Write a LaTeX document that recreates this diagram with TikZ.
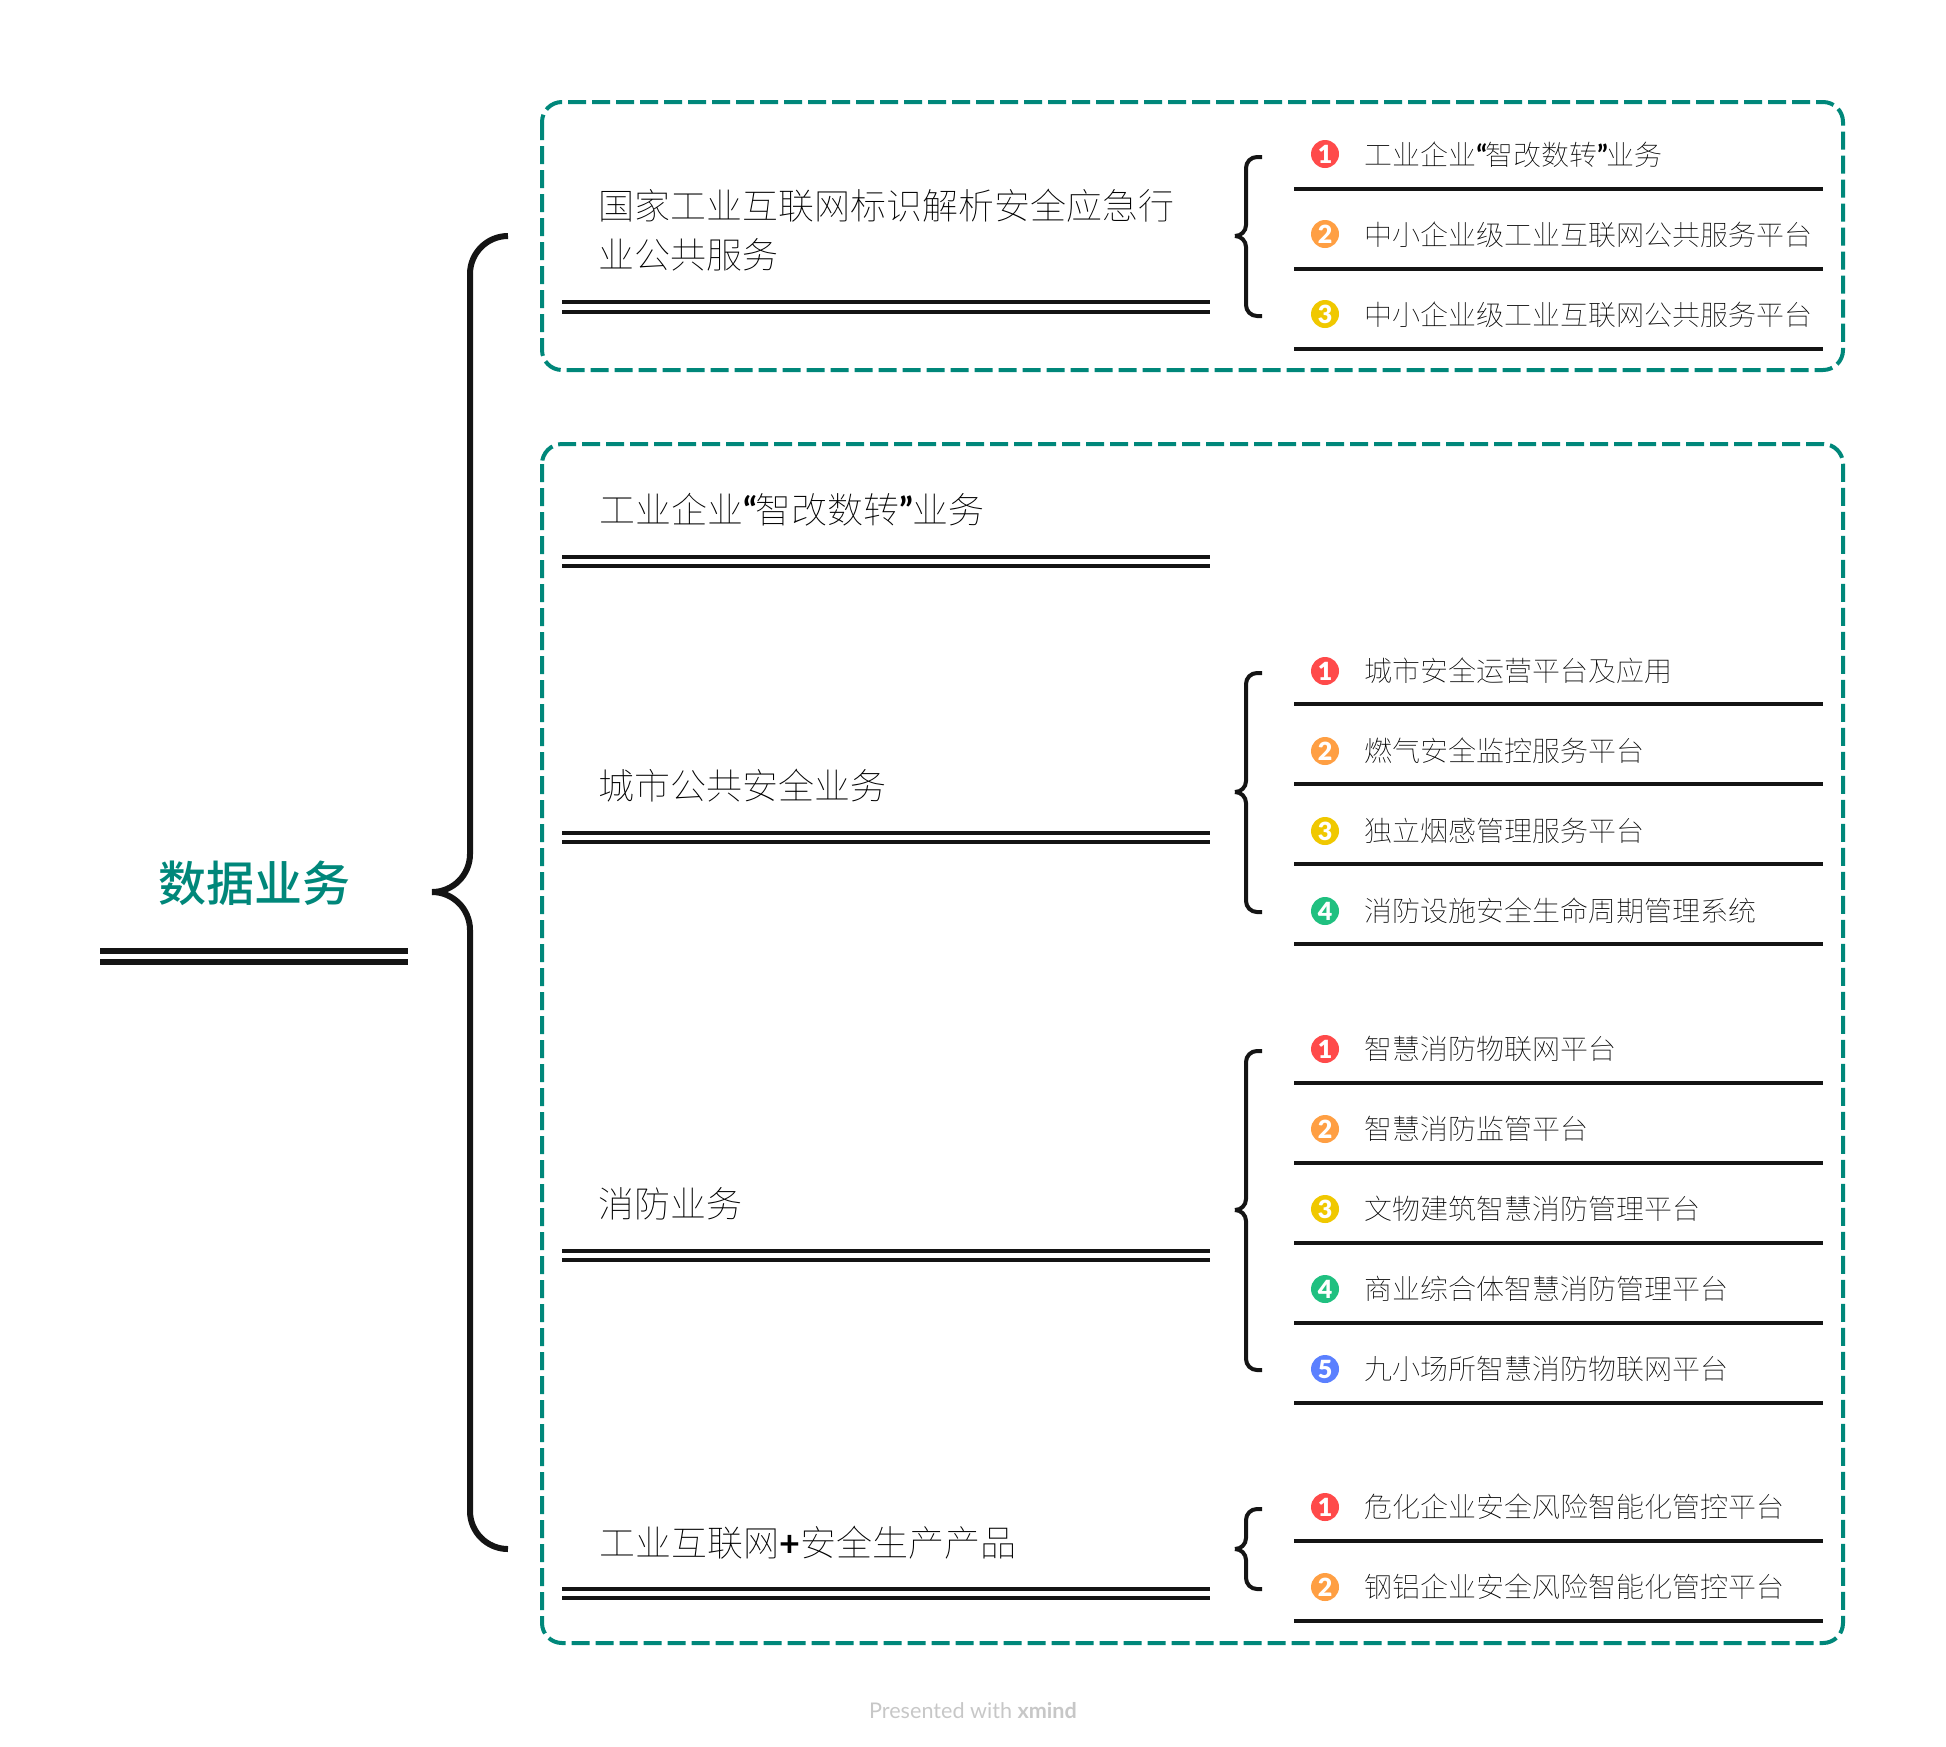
\documentclass[tikz,border=0pt]{standalone}
\usepackage{xcolor}
\usepackage{fontspec}
\usepackage{tikz}
\setmainfont{Noto Sans CJK SC Thin}
\newfontfamily\titlefont{Noto Sans CJK SC Medium}
\newfontfamily\latinfont{Lato}
\newfontfamily\badgefont{Lato Black}
\definecolor{tealframe}{HTML}{00877A}
\definecolor{inkdark}{HTML}{141414}
\definecolor{badgeA}{HTML}{FF4A4A}
\definecolor{badgeB}{HTML}{FF9F43}
\definecolor{badgeC}{HTML}{F0C800}
\definecolor{badgeD}{HTML}{20C080}
\definecolor{badgeE}{HTML}{5B80FF}
\newcommand{\qt}[1]{{\latinfont\bfseries #1}}
\tikzset{
  frame/.style={draw=tealframe, line width=2pt, rounded corners=10pt, dash pattern=on 9pt off 3pt},
  rule/.style={draw=inkdark, line width=2pt},
  thickrule/.style={draw=inkdark, line width=3pt},
  bracesmall/.style={draw=inkdark, line width=2pt, rounded corners=5.5pt},
  bracebig/.style={draw=inkdark, line width=3pt, rounded corners=19pt},
  topic/.style={anchor=west, inner sep=0pt, align=left, text=black, font=\fontsize{18}{24.5}\selectfont},
  item/.style={anchor=west, inner sep=0pt, text=black, font=\fontsize{14}{16}\selectfont},
  badge/.style={circle, fill=#1, inner sep=0pt, minimum size=14pt, text=white, font=\badgefont\fontsize{12.5}{12.5}\selectfont},
}
\begin{document}
\begin{tikzpicture}[x=0.5pt, y=-0.5pt]
    \useasboundingbox (0,0) rectangle (1946,1746);

    % Title
    \node[text=tealframe, font=\titlefont\fontsize{24}{26}\selectfont, inner sep=0pt] (title) at (254,883) {数据业务};
    \draw[thickrule] (100,951) -- (408,951);
    \draw[thickrule] (100,962) -- (408,962);

    % Big brace
    \coordinate (maintip) at (432,892);
    \coordinate (maintop) at (508,236);
    \coordinate (mainbot) at (508,1549);
    \draw[bracebig] (maintip) -- ++(38,0) |- (maintop);
    \draw[bracebig] (maintip) -- ++(38,0) |- (mainbot);

    % Frames
    \draw[frame] (542,102) rectangle (1843,370);
    \draw[frame] (542,444) rectangle (1843,1643);

    % Public service
    \node[topic] (topicA) at (598,230) {国家工业互联网标识解析安全应急行\\业公共服务};
    \draw[rule] (562,302) -- (1210,302);
    \draw[rule] (562,312) -- (1210,312);
    \coordinate (tipA) at (1235,236);
    \coordinate (topA) at (1262,157);
    \coordinate (botA) at (1262,316);
    \draw[bracesmall] (tipA) -- ++(11,0) |- (topA);
    \draw[bracesmall] (tipA) -- ++(11,0) |- (botA);
    \node[badge=badgeA] (badgeAa) at (1325,154) {1};
    \node[item] (itemAa) at (1364,155) {工业企业\qt{“}\kern-1pt智改数转\qt{”}\kern-1pt业务};
    \draw[rule] (1294,189) -- (1823,189);
    \node[badge=badgeB] (badgeAb) at (1325,234) {2};
    \node[item] (itemAb) at (1364,235) {中小企业级工业互联网公共服务平台};
    \draw[rule] (1294,269) -- (1823,269);
    \node[badge=badgeC] (badgeAc) at (1325,314) {3};
    \node[item] (itemAc) at (1364,315) {中小企业级工业互联网公共服务平台};
    \draw[rule] (1294,349) -- (1823,349);

    % Enterprise
    \node[topic] (topicB) at (599,510) {工业企业\qt{“}\kern-.8pt智改数转\qt{”}\kern-.8pt业务};
    \draw[rule] (562,557) -- (1210,557);
    \draw[rule] (562,566) -- (1210,566);

    % City safety
    \node[topic] (topicC) at (598,786) {城市公共安全业务};
    \draw[rule] (562,833) -- (1210,833);
    \draw[rule] (562,842) -- (1210,842);
    \coordinate (tipC) at (1235,792);
    \coordinate (topC) at (1262,673);
    \coordinate (botC) at (1262,912);
    \draw[bracesmall] (tipC) -- ++(11,0) |- (topC);
    \draw[bracesmall] (tipC) -- ++(11,0) |- (botC);
    \node[badge=badgeA] (badgeCa) at (1325,671) {1};
    \node[item] (itemCa) at (1364,671) {城市安全运营平台及应用};
    \draw[rule] (1294,704) -- (1823,704);
    \node[badge=badgeB] (badgeCb) at (1325,751) {2};
    \node[item] (itemCb) at (1364,751) {燃气安全监控服务平台};
    \draw[rule] (1294,784) -- (1823,784);
    \node[badge=badgeC] (badgeCc) at (1325,831) {3};
    \node[item] (itemCc) at (1364,831) {独立烟感管理服务平台};
    \draw[rule] (1294,864) -- (1823,864);
    \node[badge=badgeD] (badgeCd) at (1325,911) {4};
    \node[item] (itemCd) at (1364,911) {消防设施安全生命周期管理系统};
    \draw[rule] (1294,944) -- (1823,944);

    % Fire safety
    \node[topic] (topicD) at (598,1204) {消防业务};
    \draw[rule] (562,1251) -- (1210,1251);
    \draw[rule] (562,1260) -- (1210,1260);
    \coordinate (tipD) at (1235,1210);
    \coordinate (topD) at (1262,1051);
    \coordinate (botD) at (1262,1370);
    \draw[bracesmall] (tipD) -- ++(11,0) |- (topD);
    \draw[bracesmall] (tipD) -- ++(11,0) |- (botD);
    \node[badge=badgeA] (badgeDa) at (1325,1049) {1};
    \node[item] (itemDa) at (1364,1049) {智慧消防物联网平台};
    \draw[rule] (1294,1083) -- (1823,1083);
    \node[badge=badgeB] (badgeDb) at (1325,1129) {2};
    \node[item] (itemDb) at (1364,1129) {智慧消防监管平台};
    \draw[rule] (1294,1163) -- (1823,1163);
    \node[badge=badgeC] (badgeDc) at (1325,1209) {3};
    \node[item] (itemDc) at (1364,1209) {文物建筑智慧消防管理平台};
    \draw[rule] (1294,1243) -- (1823,1243);
    \node[badge=badgeD] (badgeDd) at (1325,1289) {4};
    \node[item] (itemDd) at (1364,1289) {商业综合体智慧消防管理平台};
    \draw[rule] (1294,1323) -- (1823,1323);
    \node[badge=badgeE] (badgeDe) at (1325,1369) {5};
    \node[item] (itemDe) at (1364,1369) {九小场所智慧消防物联网平台};
    \draw[rule] (1294,1403) -- (1823,1403);

    % Production products
    \node[topic] (topicE) at (599,1543) {工业互联网\qt{+}安全生产产品};
    \draw[rule] (562,1589) -- (1210,1589);
    \draw[rule] (562,1598) -- (1210,1598);
    \coordinate (tipE) at (1235,1549);
    \coordinate (topE) at (1262,1509);
    \coordinate (botE) at (1262,1589);
    \draw[bracesmall] (tipE) -- ++(11,0) |- (topE);
    \draw[bracesmall] (tipE) -- ++(11,0) |- (botE);
    \node[badge=badgeA] (badgeEa) at (1325,1507) {1};
    \node[item] (itemEa) at (1364,1507) {危化企业安全风险智能化管控平台};
    \draw[rule] (1294,1541) -- (1823,1541);
    \node[badge=badgeB] (badgeEb) at (1325,1587) {2};
    \node[item] (itemEb) at (1364,1587) {钢铝企业安全风险智能化管控平台};
    \draw[rule] (1294,1621) -- (1823,1621);

    % Footer
    \node[text=black!22, font=\latinfont\fontsize{10.8}{12}\selectfont, inner sep=0pt] (footer) at (973,1711) {Presented with \textbf{xmind}};
\end{tikzpicture}
\end{document}
